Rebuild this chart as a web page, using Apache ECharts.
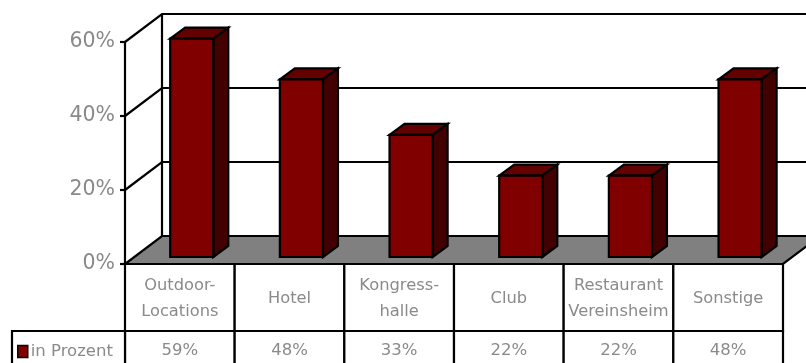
<!DOCTYPE html>
<html>
<head>
<meta charset="utf-8">
<script src="https://cdn.jsdelivr.net/npm/echarts@6/dist/echarts.min.js"></script>
<style>html,body{margin:0;padding:0;background:#fff}#c{width:806px;height:363px}</style>
</head>
<body>
<div id="c"></div>
<script>
const categories = ['Outdoor-\nLocations', 'Hotel', 'Kongress-\nhalle', 'Club', 'Restaurant\nVereinsheim', 'Sonstige'];
const values = [59, 48, 33, 22, 22, 48];
const yTicks = [0, 20, 40, 60];
const seriesName = 'in Prozent';

const FONT = '"DejaVu Sans", sans-serif';
const TXT = '#8a8a8a';
const DX = 37, DY = -28;          // depth of the 3D box
const BDX = 15, BDY = -11;        // depth of a bar
const B0X = 9, B0Y = -7;          // bar front offset into the floor
const ROW1 = 67, ROW2 = 45;       // table row heights

const chart = echarts.init(document.getElementById('c'), null, {renderer: 'canvas'});

const line = (pts, z) => ({type: 'polyline', shape: {points: pts}, z2: z || 0,
  style: {stroke: '#000', lineWidth: 2.2, fill: null, lineJoin: 'miter'}});

const option = {
  animation: false,
  grid: {left: 125, top: 42, width: 658, height: 222},
  legend: {
    data: [{name: seriesName, icon: 'rect'}],
    z: 20,
    left: 17, top: 343, padding: 0, itemWidth: 10, itemHeight: 12, itemGap: 4,
    itemStyle: {color: '#800000', borderColor: '#000', borderWidth: 1.5},
    textStyle: {color: TXT, fontSize: 16.5, fontFamily: FONT, padding: [0, 0, 0, -2]},
    selectedMode: false
  },
  xAxis: {type: 'category', data: categories, axisLine: {show: false}, axisTick: {show: false},
    axisLabel: {show: false}, splitLine: {show: false}},
  yAxis: {type: 'value', min: 0, max: 60, interval: 20,
    axisLine: {show: true, lineStyle: {color: '#000', width: 2.2}},
    axisTick: {show: true, length: 5, lineStyle: {color: '#000', width: 2.2}},
    axisLabel: {formatter: '{value}%', color: TXT, fontSize: 20.5, fontFamily: FONT, margin: 10},
    splitLine: {show: false}},
  series: [
    {
      type: 'custom', name: 'frame', z: 1, silent: true,
      data: yTicks.map(v => [0, v]),
      renderItem(params, api) {
        const cs = params.coordSys;
        const v = api.value(1);
        const y = api.coord([0, v])[1];
        const x0 = cs.x, x1 = cs.x + cs.width;
        const children = [];
        if (v === 0) {
          children.push({type: 'polygon', shape: {points: [[x0, y], [x1, y], [x1 + DX, y + DY], [x0 + DX, y + DY]]},
            style: {fill: '#808080', stroke: '#000', lineWidth: 2.2}});
          const yTop = api.coord([0, yTicks[yTicks.length - 1]])[1];
          children.push(line([[x0 + DX, y + DY], [x0 + DX, yTop + DY]]));
        } else {
          children.push(line([[x0, y], [x0 + DX, y + DY], [x1 + DX + 40, y + DY]]));
        }
        return {type: 'group', children};
      }
    },
    {
      type: 'custom', name: seriesName, z: 3,
      itemStyle: {color: '#800000'},
      data: values.map((v, i) => [i, v]),
      renderItem(params, api) {
        const i = api.value(0), v = api.value(1);
        const top = api.coord([i, v]), base = api.coord([i, 0]);
        const band = api.size([1, 0])[0];
        const bandLeft = base[0] - band / 2;
        const fl = bandLeft + band * 0.33 + B0X, fr = fl + band * 0.393;
        const fb = base[1] + B0Y, ft = top[1] + B0Y;
        const st = {stroke: '#000', lineWidth: 2.2, lineJoin: 'miter'};
        return {type: 'group', children: [
          {type: 'polygon', shape: {points: [[fl, ft], [fr, ft], [fr + BDX, ft + BDY], [fl + BDX, ft + BDY]]},
            style: Object.assign({fill: '#630000'}, st)},
          {type: 'polygon', shape: {points: [[fr, fb], [fr + BDX, fb + BDY], [fr + BDX, ft + BDY], [fr, ft]]},
            style: Object.assign({fill: '#420000'}, st)},
          {type: 'rect', shape: {x: fl, y: ft, width: fr - fl, height: fb - ft},
            style: Object.assign({fill: '#800000'}, st)}
        ]};
      }
    },
    {
      type: 'custom', name: 'table', z: 2, silent: true,
      data: categories.map((c, i) => [i, 0]),
      renderItem(params, api) {
        const i = api.value(0);
        const base = api.coord([i, 0]);
        const band = api.size([1, 0])[0];
        const l = base[0] - band / 2, y = base[1];
        const st = {stroke: '#000', lineWidth: 2.2, fill: '#fff'};
        const children = [
          {type: 'rect', shape: {x: l, y: y, width: band, height: ROW1}, style: st},
          {type: 'rect', shape: {x: l, y: y + ROW1, width: band, height: ROW2}, style: st},
          {type: 'text', x: l + band / 2, y: y + ROW1 / 2 + 1, z2: 5,
            style: {text: categories[i], fill: TXT, fontSize: 16.3, fontFamily: FONT, lineHeight: 26,
              align: 'center', verticalAlign: 'middle'}},
          {type: 'text', x: l + band / 2, y: y + ROW1 + 20, z2: 5,
            style: {text: values[i] + '%', fill: TXT, fontSize: 16.5, fontFamily: FONT,
              align: 'center', verticalAlign: 'middle'}}
        ];
        if (i === 0) {
          children.push({type: 'rect', shape: {x: 12, y: y + ROW1, width: l - 12, height: ROW2}, style: st});
        }
        return {type: 'group', children};
      }
    }
  ]
};
chart.setOption(option);
</script>
</body>
</html>
